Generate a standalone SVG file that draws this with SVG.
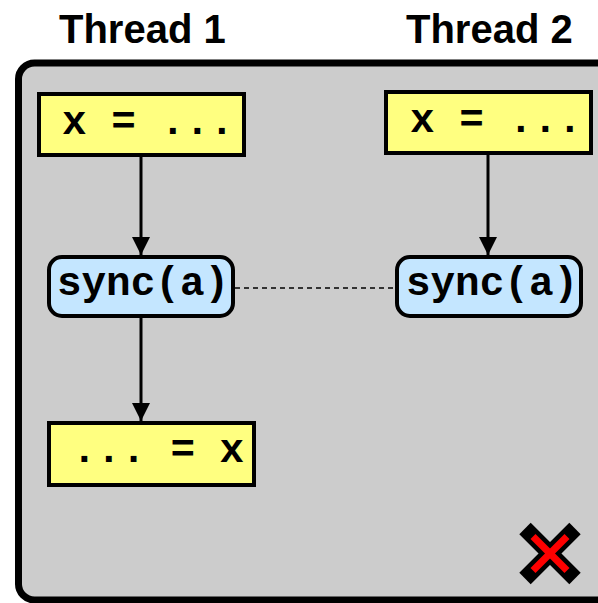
<svg xmlns="http://www.w3.org/2000/svg" width="598" height="603" viewBox="0 0 598 603">
<defs>
<style>
.title{font-family:"Liberation Sans",Arial,sans-serif;font-weight:bold;font-size:40px;fill:#000}
.code{font-family:"Liberation Mono","Courier New",monospace;font-weight:bold;font-size:41px;fill:#000}
.ybox{fill:#ffff80;stroke:#000;stroke-width:4}
.sbox{fill:#c4e6ff;stroke:#000;stroke-width:4}
.edge{stroke:#000;stroke-width:3;fill:none}
</style>
<marker id="ah" viewBox="0 0 18 18" refX="18" refY="9" markerWidth="18" markerHeight="18" markerUnits="userSpaceOnUse" orient="auto">
<path d="M0,0 L18,9 L0,18 Z" fill="#000"/>
</marker>
</defs>
<rect width="598" height="603" fill="#fff"/>
<text class="title" x="59" y="43">Thread 1</text>
<text class="title" x="406" y="43">Thread 2</text>
<rect id="panel" x="18.5" y="63" width="620" height="537" rx="16" fill="#cccccc" stroke="#000" stroke-width="7"/>
<g id="connectors">
<line class="edge" x1="141" y1="157" x2="141" y2="255" marker-end="url(#ah)"/>
<line class="edge" x1="488" y1="154" x2="488" y2="255" marker-end="url(#ah)"/>
<line class="edge" x1="141" y1="318" x2="141" y2="421" marker-end="url(#ah)"/>
<line x1="235" y1="288" x2="395" y2="288" stroke="#000" stroke-width="1.5" stroke-dasharray="5,4"/>
</g>
<g id="t1-write">
<rect class="ybox" x="39" y="94" width="205" height="61"/>
<text class="code" x="62" y="134">x = ...</text>
</g>
<g id="t2-write">
<rect class="ybox" x="386" y="92" width="205" height="61"/>
<text class="code" x="410" y="132">x = ...</text>
</g>
<g id="t1-sync">
<rect class="sbox" x="49" y="257" width="184" height="59" rx="13"/>
<text class="code" x="143" y="295" text-anchor="middle">sync(a)</text>
</g>
<g id="t2-sync">
<rect class="sbox" x="397" y="257" width="184" height="59" rx="13"/>
<text class="code" x="492" y="295" text-anchor="middle">sync(a)</text>
</g>
<g id="t1-read">
<rect class="ybox" x="49" y="423" width="205" height="62"/>
<text class="code" x="72" y="462">... = x</text>
</g>
<g id="cross">
<line x1="525" y1="528.5" x2="575" y2="578.5" stroke="#000" stroke-width="16"/>
<line x1="575" y1="528.5" x2="525" y2="578.5" stroke="#000" stroke-width="16"/>
<line x1="533" y1="536.5" x2="567" y2="570.5" stroke="#ff0000" stroke-width="7"/>
<line x1="567" y1="536.5" x2="533" y2="570.5" stroke="#ff0000" stroke-width="7"/>
</g>
</svg>
